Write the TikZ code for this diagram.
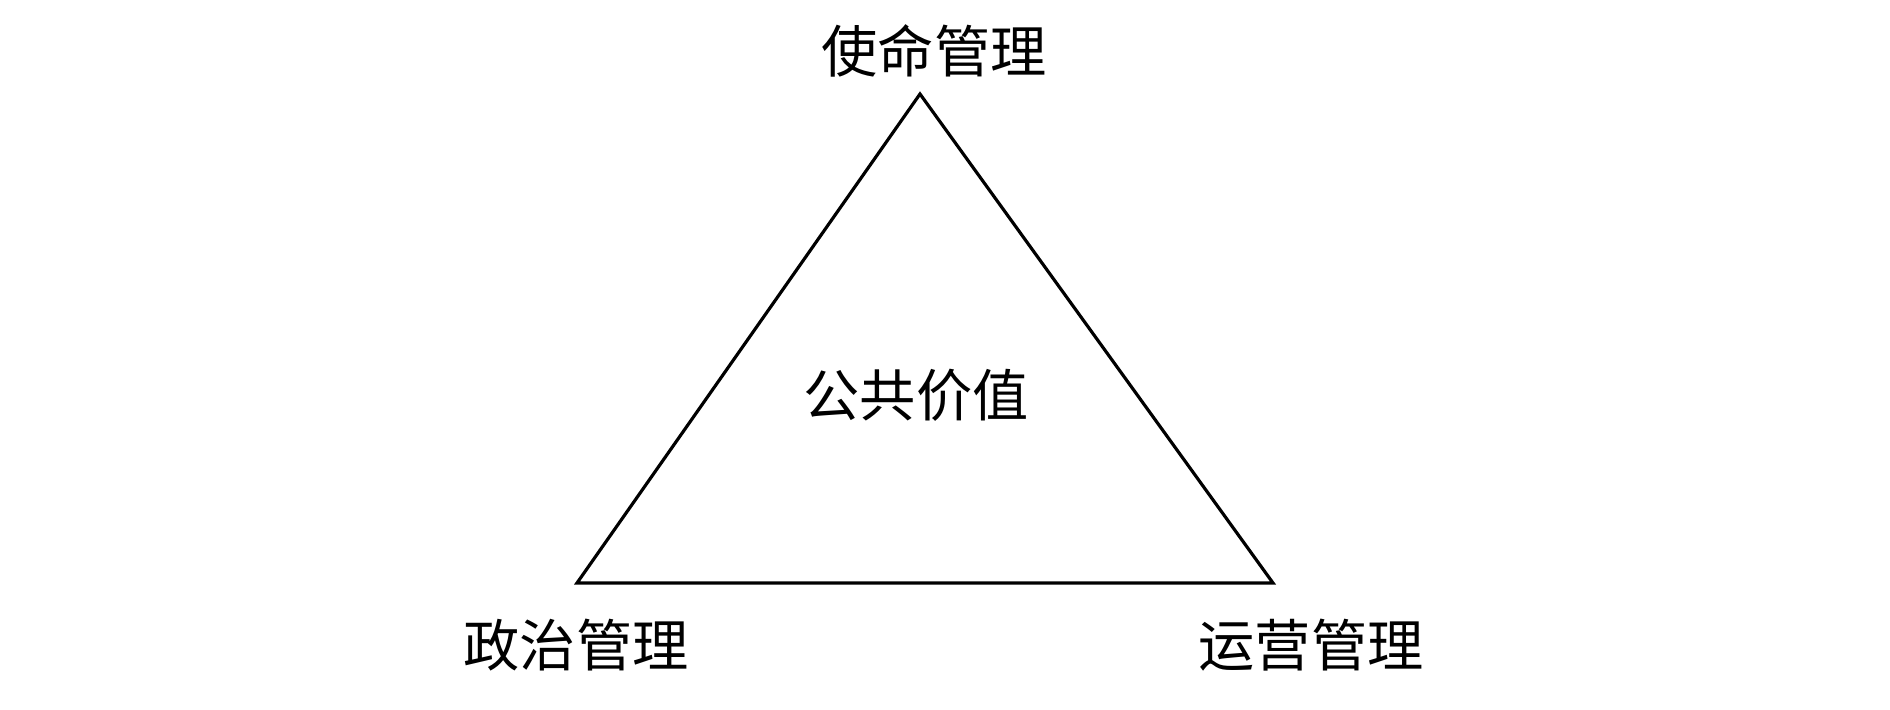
\documentclass[tikz,border=0pt]{standalone}
\usepackage{fontspec}
\newfontfamily\cjk{Noto Sans CJK SC}
\usepackage{tikz}
\usetikzlibrary{positioning}
\tikzset{
    labelnode/.style = {align=center, inner sep=0pt, font=\cjk\fontsize{16}{16}\selectfont},
    edgen/.style = {-, line width=0.9pt, line join=miter}
}
\begin{document}
\begin{tikzpicture}
\useasboundingbox (0,0) rectangle (18.9,7.1);
\coordinate (top) at (9.20,6.16);
\coordinate (left) at (5.77,1.27);
\coordinate (right) at (12.73,1.27);
%
\node[labelnode] at (9.34,6.59) (mission) {使命管理};
\node[labelnode] at (5.76,0.65) (politics) {政治管理};
\node[labelnode] at (13.11,0.65) (operation) {运营管理};
\node[labelnode] at (9.16,3.15) (value) {公共价值};
%
\draw[edgen] (top) -- (left) -- (right) -- cycle;
\end{tikzpicture}
\end{document}
